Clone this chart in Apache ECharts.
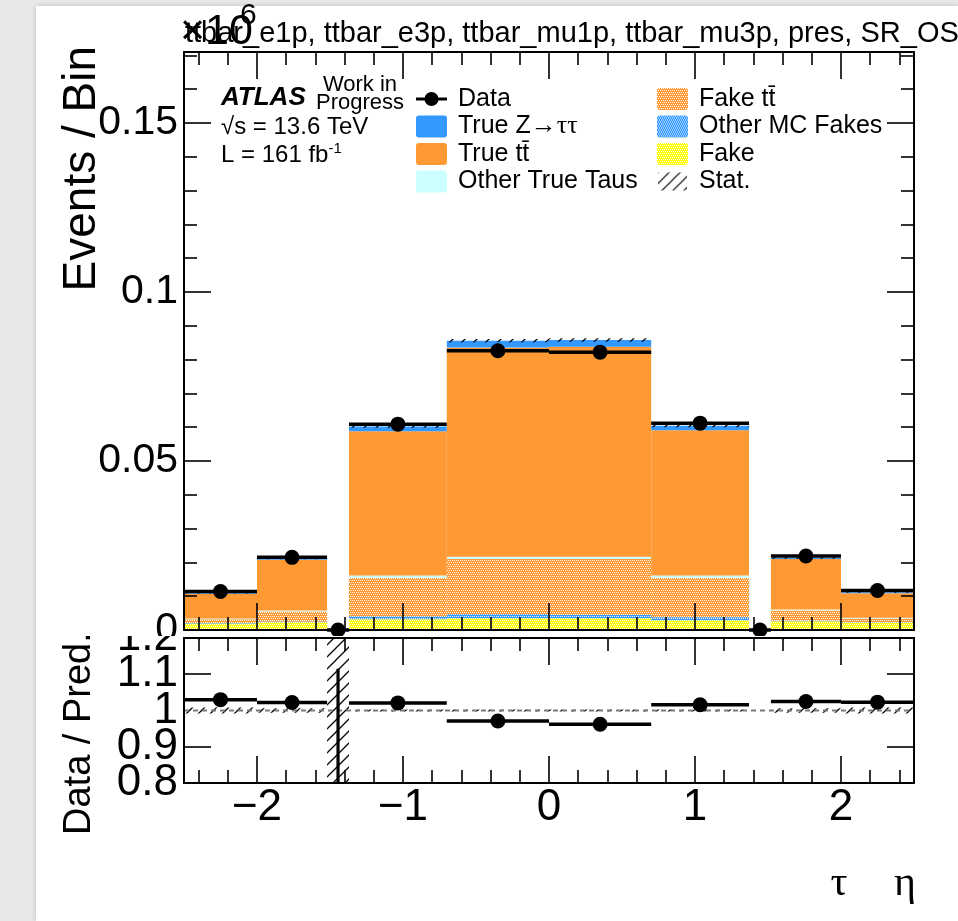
<!DOCTYPE html>
<html>
<head>
<meta charset="utf-8">
<script src="https://cdn.jsdelivr.net/npm/echarts@6/dist/echarts.min.js"></script>
<style>
  html, body { margin: 0; padding: 0; width: 958px; height: 921px; overflow: hidden; background: #e8e8e8; }
  #paper { position: absolute; left: 36px; top: 6px; width: 922px; height: 915px; background: #ffffff; box-shadow: 0 0 5px rgba(0,0,0,0.18); }
  #main  { position: absolute; left: 0; top: 0; width: 958px; height: 636px; }
  #ratio { position: absolute; left: 0; top: 636px; width: 958px; height: 285px; }
</style>
</head>
<body>
<div id="paper"></div>
<div id="main"></div>
<div id="ratio"></div>
<script>
// ---- binning in tau eta (crack region -1.52..-1.37 / 1.37..1.52 kept as its own bin)
const binEdges = [-2.5, -2.0, -1.52, -1.37, -0.7, 0, 0.7, 1.37, 1.52, 2.0, 2.5];

// ---- predicted yields per bin (units of 10^6 events), bottom of the stack first
const fake          = [0.0019, 0.0023, 0, 0.0032, 0.0035, 0.0035, 0.0029, 0, 0.0026, 0.0022];
const otherMcFakes  = [0.0002, 0.0002, 0, 0.0009, 0.0012, 0.0010, 0.0009, 0, 0.0002, 0.0002];
const fakeTtbar     = [0.0011, 0.0030, 0, 0.0113, 0.0163, 0.0165, 0.0116, 0, 0.0030, 0.0010];
const otherTrueTaus = [0.0002, 0.0003, 0, 0.0007, 0.0007, 0.0007, 0.0007, 0, 0.0003, 0.0002];
const trueTtbar     = [0.0073, 0.0150, 0, 0.0427, 0.0619, 0.0621, 0.0430, 0, 0.0149, 0.0073];
const trueZtautau   = [0.0003, 0.0004, 0, 0.0014, 0.0020, 0.0020, 0.0013, 0, 0.0004, 0.0003];
const mcStatErr     = [0.0002, 0.0003, 0, 0.0004, 0.0005, 0.0005, 0.0004, 0, 0.0003, 0.0002];

// ---- observed data per bin (units of 10^6 events)
const dataYield = [0.0114, 0.0215, 0, 0.0609, 0.0826, 0.0822, 0.0612, 0, 0.0219, 0.0117];

// ---- ratio panel
const ratio        = [1.030, 1.022, 0, 1.021, 0.971, 0.962, 1.016, null, 1.025, 1.023];
const ratioErrUp   = [0.004, 0.003, 1.115, 0.002, 0.002, 0.002, 0.002, 0, 0.003, 0.004];
const ratioStatErr = [0.008, 0.006, 1.0, 0.003, 0.003, 0.003, 0.003, 0, 0.006, 0.008];

// ---- axes
const yMax = 0.171;
const xMajorTicks = [-2, -1, 0, 1, 2];
const xMinorTicks = [-2.4, -2.2, -1.8, -1.6, -1.4, -1.2, -0.8, -0.6, -0.4, -0.2,
                     0.2, 0.4, 0.6, 0.8, 1.2, 1.4, 1.6, 1.8, 2.2, 2.4];
const yMainMajorTicks = [0, 0.05, 0.1, 0.15];
const yMainMinorTicks = [0.01, 0.02, 0.03, 0.04, 0.06, 0.07, 0.08, 0.09,
                         0.11, 0.12, 0.13, 0.14, 0.16, 0.17];
const ratioTicks       = [0.9, 1.1];
const ratioLabelsEven  = [0.8, 1, 1.2];
const ratioLabelsOdd   = [0.9, 1.1];

const SANS  = "'Liberation Sans', Arial, Helvetica, sans-serif";
const SERIF = "'Liberation Serif', 'Times New Roman', serif";

const C_BLUE   = '#3399ff';
const C_ORANGE = '#ff9933';
const C_CYAN   = '#ccffff';
const C_YELLOW = '#ffff00';

// fill patterns
function dotted(base) {
  const c = document.createElement('canvas');
  c.width = 4; c.height = 4;
  const g = c.getContext('2d');
  g.fillStyle = base; g.fillRect(0, 0, 4, 4);
  g.fillStyle = '#ffffff';
  [[0, 0], [2, 0], [1, 2], [3, 2]].forEach(p => g.fillRect(p[0], p[1], 1, 1));
  return { image: c, repeat: 'repeat' };
}
function hatch(pitch, width) {
  const c = document.createElement('canvas');
  c.width = pitch; c.height = pitch;
  const g = c.getContext('2d');
  g.strokeStyle = '#000'; g.lineWidth = width;
  g.beginPath();
  g.moveTo(-1, pitch + 1); g.lineTo(pitch + 1, -1);
  g.moveTo(-1, 1); g.lineTo(1, -1);
  g.moveTo(pitch - 1, pitch + 1); g.lineTo(pitch + 1, pitch - 1);
  g.stroke();
  return { image: c, repeat: 'repeat' };
}

const nBins = binEdges.length - 1;

// ---- axis builders
function frameLine() { return { show: true, onZero: false, lineStyle: { color: '#000', width: 2 } }; }
const noLine = { show: false, onZero: false };
function tick(values, len) {
  return { show: true, inside: true, length: len, customValues: values, lineStyle: { color: '#000', width: 1.6 } };
}
function xAxesFor(gridIndex, labels) {
  const base = { type: 'value', gridIndex, min: -2.5, max: 2.5, splitLine: { show: false }, z: 10 };
  const lab = labels
    ? { show: true, customValues: xMajorTicks, margin: 3, color: '#000', fontFamily: SANS, fontSize: 44,
        formatter: v => (v < 0 ? '\u2212' + Math.abs(v) : String(v)) }
    : { show: false };
  return [
    Object.assign({}, base, { position: 'bottom', axisLine: frameLine(), axisTick: tick(xMajorTicks, 27), axisLabel: lab }),
    Object.assign({}, base, { position: 'bottom', axisLine: noLine, axisTick: tick(xMinorTicks, 13), axisLabel: { show: false } }),
    Object.assign({}, base, { position: 'top', axisLine: frameLine(), axisTick: tick(xMajorTicks, 27), axisLabel: { show: false } }),
    Object.assign({}, base, { position: 'top', axisLine: noLine, axisTick: tick(xMinorTicks, 13), axisLabel: { show: false } })
  ];
}

// ---- main panel series
const stackOrder = [
  { name: 'Fake',            values: fake,          fill: dotted(C_YELLOW) },
  { name: 'Other MC Fakes',  values: otherMcFakes,  fill: dotted(C_BLUE) },
  { name: 'Fake tt\u0304',   values: fakeTtbar,     fill: dotted(C_ORANGE) },
  { name: 'Other True Taus', values: otherTrueTaus, fill: C_CYAN },
  { name: 'True tt\u0304',   values: trueTtbar,     fill: C_ORANGE },
  { name: 'True Z\u2192\u03c4\u03c4', values: trueZtautau, fill: C_BLUE }
];

function rectRenderer(fill) {
  return function (params, api) {
    const a = api.coord([api.value(0), api.value(3)]);
    const b = api.coord([api.value(1), api.value(2)]);
    return { type: 'rect', shape: { x: a[0], y: a[1], width: b[0] - a[0], height: b[1] - a[1] },
             style: { fill: fill, stroke: null } };
  };
}

let cumulative = new Array(nBins).fill(0);
const stackSeries = stackOrder.map(comp => {
  const data = [];
  for (let i = 0; i < nBins; i++) {
    const v = comp.values[i];
    if (v > 0) data.push([binEdges[i], binEdges[i + 1], cumulative[i], cumulative[i] + v]);
  }
  cumulative = cumulative.map((c, i) => c + comp.values[i]);
  return { type: 'custom', name: comp.name, xAxisIndex: 0, yAxisIndex: 0, z: 2,
           encode: { x: [0, 1], y: [2, 3] }, data, renderItem: rectRenderer(comp.fill) };
});
const mcTotal = cumulative;

const hatchFill = hatch(12, 1.3);
const statBandData = [];
for (let i = 0; i < nBins; i++) {
  if (mcTotal[i] > 0) statBandData.push([binEdges[i], binEdges[i + 1], mcTotal[i] - mcStatErr[i], mcTotal[i] + mcStatErr[i]]);
}

function dataRenderer(params, api) {
  const l = api.coord([api.value(0), api.value(2)]);
  const r = api.coord([api.value(1), api.value(2)]);
  const cx = (l[0] + r[0]) / 2;
  const children = [
    { type: 'line', shape: { x1: l[0], y1: l[1], x2: r[0], y2: r[1] }, style: { stroke: '#000', lineWidth: 3.5 } }
  ];
  const up = api.value(3);
  if (up > 0.05) {
    const top = api.coord([0, api.value(2) + up]);
    children.push({ type: 'line', shape: { x1: cx, y1: l[1], x2: cx, y2: top[1] }, style: { stroke: '#000', lineWidth: 3.2 } });
  }
  children.push({ type: 'circle', shape: { cx: cx, cy: l[1], r: 7.5 }, style: { fill: '#000' } });
  return { type: 'group', children };
}

const mainData = [];
for (let i = 0; i < nBins; i++) mainData.push([binEdges[i], binEdges[i + 1], dataYield[i], 0]);

// ---- legend and labels drawn on the main pad
function txt(x, y, text, size, extra) {
  return Object.assign({ type: 'text', x, y, z: 50,
    style: Object.assign({ text, font: size + 'px ' + SANS, fill: '#000', align: 'left', verticalAlign: 'middle' }, extra || {}) });
}
function swatch(x, y, fill) {
  return { type: 'rect', x, y: y - 11, z: 50, shape: { width: 31, height: 22, r: 3 }, style: { fill: fill, stroke: null } };
}
const legendRows = [99, 126.5, 154, 181.5];
const col1 = 416, col2 = 657;

const mainGraphic = [
  // run title
  txt(185, 34, 'ttbar_e1p, ttbar_e3p, ttbar_mu1p, ttbar_mu3p, pres, SR_OS', 29),
  // axis multiplier
  txt(180, 32, '\u00d710', 43),
  txt(240, 16, '6', 30),
  // y-axis title
  { type: 'text', x: 82, y: 46, rotation: Math.PI / 2, z: 50,
    style: { text: 'Events / Bin', font: '46px ' + SANS, fill: '#000', align: 'right', verticalAlign: 'middle' } },
  // experiment label
  txt(221, 98, 'ATLAS', 26, { font: 'italic bold 26px ' + SANS }),
  txt(360, 85, 'Work in', 22, { align: 'center' }),
  txt(360, 103, 'Progress', 22, { align: 'center' }),
  txt(221, 127, '\u221as = 13.6 TeV', 24),
  { type: 'text', x: 221, y: 155, z: 50,
    style: { text: '{a|L = 161 fb}{b|-1}', fill: '#000', align: 'left', verticalAlign: 'middle',
      rich: { a: { font: '24px ' + SANS }, b: { font: '15px ' + SANS, padding: [0, 0, 12, 0] } } } },
  // legend, left column
  { type: 'line', z: 50, shape: { x1: col1, y1: legendRows[0], x2: col1 + 31, y2: legendRows[0] }, style: { stroke: '#000', lineWidth: 3 } },
  { type: 'circle', z: 50, shape: { cx: col1 + 15.5, cy: legendRows[0], r: 7 }, style: { fill: '#000' } },
  txt(458, legendRows[0], 'Data', 25),
  swatch(col1, legendRows[1], C_BLUE),
  { type: 'text', x: 458, y: legendRows[1], z: 50,
    style: { text: '{a|True Z}{b|\u2192\u03c4\u03c4}', fill: '#000', align: 'left', verticalAlign: 'middle',
      rich: { a: { font: '25px ' + SANS }, b: { font: '26px ' + SERIF } } } },
  swatch(col1, legendRows[2], C_ORANGE),
  txt(458, legendRows[2], 'True tt\u0304', 25),
  swatch(col1, legendRows[3], C_CYAN),
  txt(458, legendRows[3], 'Other True Taus', 25),
  // legend, right column
  swatch(col2, legendRows[0], dotted(C_ORANGE)),
  txt(699, legendRows[0], 'Fake tt\u0304', 25),
  swatch(col2, legendRows[1], dotted(C_BLUE)),
  txt(699, legendRows[1], 'Other MC Fakes', 25),
  swatch(col2, legendRows[2], dotted(C_YELLOW)),
  txt(699, legendRows[2], 'Fake', 25),
  { type: 'rect', x: col2 + 1, y: legendRows[3] - 9, z: 50, shape: { width: 29, height: 18 }, style: { fill: hatch(11, 1.2), stroke: null } },
  txt(699, legendRows[3], 'Stat.', 25)
];

function yLabel(size, margin) {
  return { show: true, margin, color: '#000', fontFamily: SANS, fontSize: size,
           showMinLabel: true, showMaxLabel: true, formatter: v => String(v) };
}

const mainOption = {
  animation: false,
  grid: [{ left: 184, top: 52, width: 730, height: 578, containLabel: false, outerBoundsMode: 'none' }],
  xAxis: xAxesFor(0, false),
  yAxis: [
    { type: 'value', min: 0, max: yMax, position: 'left', z: 10, splitLine: { show: false },
      axisLine: frameLine(), axisTick: tick(yMainMajorTicks, 27),
      axisLabel: Object.assign(yLabel(41, 6), { customValues: yMainMajorTicks }) },
    { type: 'value', min: 0, max: yMax, position: 'left', z: 10, splitLine: { show: false },
      axisLine: noLine, axisTick: tick(yMainMinorTicks, 13), axisLabel: { show: false } },
    { type: 'value', min: 0, max: yMax, position: 'right', z: 10, splitLine: { show: false },
      axisLine: frameLine(), axisTick: tick(yMainMajorTicks, 27), axisLabel: { show: false } },
    { type: 'value', min: 0, max: yMax, position: 'right', z: 10, splitLine: { show: false },
      axisLine: noLine, axisTick: tick(yMainMinorTicks, 13), axisLabel: { show: false } }
  ],
  series: stackSeries.concat([
    { type: 'custom', name: 'Stat.', xAxisIndex: 0, yAxisIndex: 0, z: 3,
      encode: { x: [0, 1], y: [2, 3] }, data: statBandData, renderItem: rectRenderer(hatchFill) },
    { type: 'custom', name: 'Data', xAxisIndex: 0, yAxisIndex: 0, z: 20,
      encode: { x: [0, 1], y: 2 }, data: mainData, renderItem: dataRenderer }
  ]),
  graphic: mainGraphic
};

// ---- ratio panel
const ratioBand = [];
const ratioPoints = [];
for (let i = 0; i < nBins; i++) {
  if (ratioStatErr[i] > 0) ratioBand.push([binEdges[i], binEdges[i + 1], 1 - ratioStatErr[i], 1 + ratioStatErr[i]]);
  if (ratio[i] !== null) ratioPoints.push([binEdges[i], binEdges[i + 1], ratio[i], ratioErrUp[i]]);
}

const ratioOption = {
  animation: false,
  grid: [{ left: 184, top: 2, width: 730, height: 145, containLabel: false, outerBoundsMode: 'none' }],
  xAxis: xAxesFor(0, true),
  yAxis: [
    { type: 'value', min: 0.8, max: 1.2, position: 'left', z: 10, splitLine: { show: false },
      axisLine: frameLine(), axisTick: tick(ratioTicks, 27),
      axisLabel: Object.assign(yLabel(44, 6), { customValues: ratioLabelsEven }) },
    // second label set on the same side: the panel is too short for every label on one axis
    { type: 'value', min: 0.8, max: 1.2, position: 'left', z: 10, splitLine: { show: false },
      axisLine: noLine, axisTick: { show: false },
      axisLabel: Object.assign(yLabel(44, 6), { customValues: ratioLabelsOdd }) },
    { type: 'value', min: 0.8, max: 1.2, position: 'right', z: 10, splitLine: { show: false },
      axisLine: frameLine(), axisTick: tick(ratioTicks, 27), axisLabel: { show: false } }
  ],
  series: [
    { type: 'custom', name: 'Stat.', xAxisIndex: 0, yAxisIndex: 0, z: 3, clip: true,
      encode: { x: [0, 1], y: [2, 3] }, data: ratioBand, renderItem: rectRenderer(hatch(12, 1.3)) },
    { type: 'custom', name: 'unity', xAxisIndex: 0, yAxisIndex: 0, z: 4, clip: true,
      encode: { x: [0, 1], y: 2 }, data: [[-2.5, 2.5, 1]],
      renderItem: function (params, api) {
        const a = api.coord([api.value(0), api.value(2)]);
        const b = api.coord([api.value(1), api.value(2)]);
        return { type: 'line', shape: { x1: a[0], y1: a[1], x2: b[0], y2: b[1] },
                 style: { stroke: '#7a7a7a', lineWidth: 2, lineDash: [5, 4] } };
      } },
    { type: 'custom', name: 'Data / Pred.', xAxisIndex: 0, yAxisIndex: 0, z: 20, clip: true,
      encode: { x: [0, 1], y: 2 }, data: ratioPoints, renderItem: dataRenderer }
  ],
  graphic: [
    { type: 'text', x: 80, y: 199, rotation: Math.PI / 2, z: 50,
      style: { text: 'Data / Pred.', font: '38px ' + SANS, fill: '#000', align: 'left', verticalAlign: 'middle' } },
    { type: 'text', x: 839, y: 248, z: 50,
      style: { text: '\u03c4', font: '42px ' + SERIF, fill: '#000', align: 'center', verticalAlign: 'middle' } },
    { type: 'text', x: 905, y: 248, z: 50,
      style: { text: '\u03b7', font: '42px ' + SERIF, fill: '#000', align: 'center', verticalAlign: 'middle' } }
  ]
};

echarts.init(document.getElementById('main'), null, { renderer: 'canvas' }).setOption(mainOption);
echarts.init(document.getElementById('ratio'), null, { renderer: 'canvas' }).setOption(ratioOption);
</script>
</body>
</html>
